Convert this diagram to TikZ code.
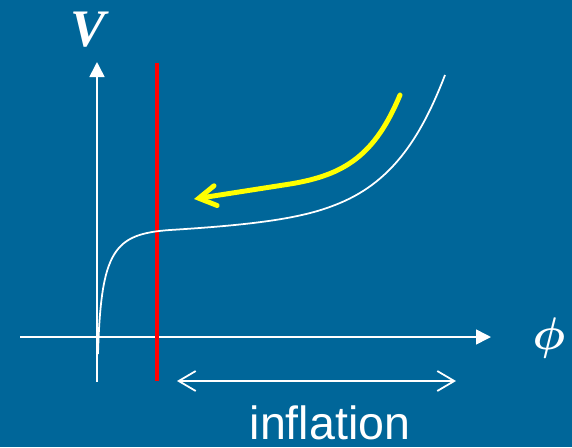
\documentclass[tikz,border=0pt]{standalone}
\usepackage{fontspec}
\setmainfont{Liberation Sans}
\newfontfamily\vfont{Liberation Serif}
\usepackage{tikz}
\usetikzlibrary{arrows.meta}
\definecolor{bgblue}{RGB}{0,102,153}
\definecolor{pathyellow}{RGB}{255,255,0}

\begin{document}
\begin{tikzpicture}[x=0.02cm,y=-0.02cm,>={Triangle[length=0.3cm,width=0.3cm]}]
\useasboundingbox(0,0)rectangle(572,447);
\fill[bgblue](0,0)rectangle(572,447);
\draw[->,white,line width=0.9pt](97,382)--(97,62)coordinate(ytip);
\draw[->,white,line width=0.9pt](20,337)--(491,337)coordinate(xtip);
\node[white,font=\vfont\bfseries\itshape\fontsize{30}{30}\selectfont](vlab)at(88,30){V};
\node[white,scale=2.6,font=\boldmath,inner sep=0pt](philab)at(549,338){$\phi$};
\draw[red,line width=2.3pt](157,63)--(157,381);
\draw[white,line width=1pt](98,354)..controls(101,250)and(114,234)..(170,230)
..controls(250,225)and(300,219)..(335,205)
..controls(390,184)and(420,140)..(445,75);
\draw[-{Straight Barb[length=0.34cm,width=0.4cm,line cap=round]},pathyellow,line width=2.8pt,line cap=round]
(400,95)..controls(375,155)and(345,175)..(290,184)--(194,199);
\draw[{Straight Barb[length=0.34cm,width=0.4cm]}-{Straight Barb[length=0.34cm,width=0.4cm]},white,line width=1pt]
(177,381)coordinate(infl-l)--(456,381)coordinate(infl-r);
\node[white,font=\fontsize{26.5}{26.5}\selectfont](infl)at(330,423){inflation};
\end{tikzpicture}
\end{document}
